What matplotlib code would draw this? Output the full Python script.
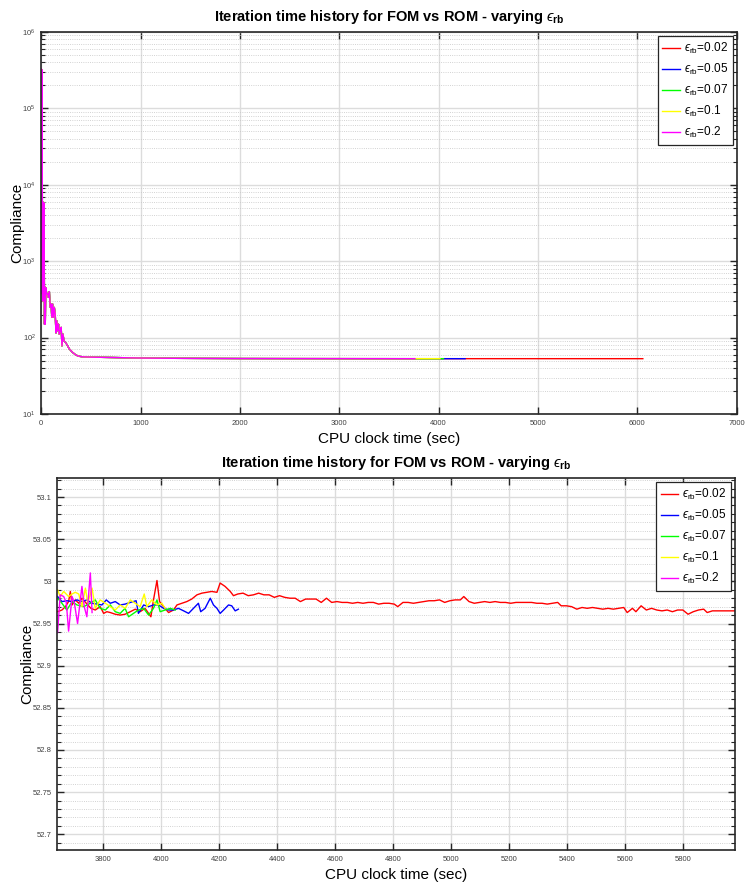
import matplotlib
matplotlib.use("Agg")
import matplotlib.pyplot as plt
from matplotlib.ticker import MultipleLocator, FormatStrFormatter, LogLocator, NullLocator

plt.rcParams['font.family'] = ['Liberation Sans', 'DejaVu Sans']
plt.rcParams['mathtext.fontset'] = 'custom'
plt.rcParams['mathtext.rm'] = 'Liberation Sans'
plt.rcParams['mathtext.it'] = 'Liberation Sans:italic'
plt.rcParams['mathtext.bf'] = 'Liberation Sans:bold'
plt.rcParams['mathtext.fallback'] = 'stixsans'

# ---------------- data ----------------
eps_labels = ['0.02', '0.05', '0.07', '0.1', '0.2']
colors = ['#FF0000', '#0000FF', '#00FF00', '#FFFF00', '#FF00FF']

# shared early history (initial iterations), CPU time (s) / compliance
early_t = [0, 4, 8, 12, 16, 20, 24, 28, 32, 36,
           40, 45, 55, 64, 72, 81, 90, 98, 106, 114,
           122, 131, 140, 148, 156, 165, 173, 181, 190, 200,
           208, 218, 228, 248, 265, 282, 315, 349, 380, 416,
           500]
early_c = [3.3e5, 380, 3.2e5, 420, 300, 5900, 400, 5800, 150, 460,
           150, 450, 372, 372, 336, 400, 250, 275, 184, 275,
           184, 248, 203, 115, 166, 123, 150, 111, 123, 136,
           78, 111, 91, 85, 78, 71, 64, 59, 57, 56,
           55.5]
mid_t = [750, 1000, 1300, 1600, 2000, 2400, 2800, 3200, 3500]
mid_c = [54.8, 54.0, 53.6, 53.4, 53.2, 53.1, 53.05, 53.0, 52.99]

red_t = [3642, 3657, 3669, 3680, 3686, 3692, 3703, 3715, 3726, 3741,
         3757, 3772, 3789, 3801, 3812, 3824, 3841, 3858, 3875, 3893,
         3910, 3927, 3944, 3956, 3964, 3973, 3985, 3994, 4008, 4025,
         4042, 4054, 4071, 4088, 4105, 4123, 4140, 4157, 4174, 4192,
         4203, 4220, 4238, 4249, 4264, 4282, 4300, 4318, 4336, 4354,
         4372, 4390, 4408, 4426, 4444, 4462, 4480, 4498, 4516, 4534,
         4552, 4570, 4588, 4606, 4624, 4642, 4660, 4678, 4696, 4714,
         4732, 4750, 4768, 4786, 4804, 4816, 4834, 4852, 4870, 4888,
         4906, 4924, 4942, 4960, 4978, 4996, 5014, 5032, 5044, 5062,
         5080, 5098, 5116, 5134, 5152, 5170, 5188, 5206, 5224, 5242,
         5260, 5278, 5296, 5314, 5332, 5350, 5368, 5380, 5398, 5416,
         5434, 5452, 5470, 5488, 5506, 5524, 5542, 5560, 5578, 5596,
         5608, 5626, 5638, 5656, 5674, 5692, 5710, 5728, 5746, 5764,
         5782, 5800, 5818, 5836, 5854, 5872, 5884, 5902, 5920, 5944,
         5960, 5979, 5998, 6017, 6036, 6055]
red_c = [52.964, 52.966, 52.970, 52.976, 52.988, 52.972, 52.978, 52.974, 52.980, 52.974,
         52.968, 52.966, 52.970, 52.962, 52.964, 52.963, 52.961, 52.960, 52.961, 52.964,
         52.967, 52.964, 52.968, 52.962, 52.958, 52.978, 53.001, 52.976, 52.970, 52.963,
         52.966, 52.972, 52.974, 52.976, 52.979, 52.984, 52.986, 52.987, 52.988, 52.987,
         52.998, 52.994, 52.988, 52.983, 52.985, 52.986, 52.983, 52.984, 52.986, 52.984,
         52.984, 52.981, 52.983, 52.981, 52.980, 52.980, 52.976, 52.979, 52.979, 52.979,
         52.975, 52.980, 52.975, 52.976, 52.975, 52.975, 52.974, 52.975, 52.974, 52.975,
         52.975, 52.973, 52.974, 52.974, 52.973, 52.970, 52.975, 52.975, 52.974, 52.975,
         52.976, 52.977, 52.977, 52.978, 52.975, 52.977, 52.978, 52.978, 52.982, 52.976,
         52.974, 52.975, 52.976, 52.975, 52.976, 52.975, 52.975, 52.974, 52.975, 52.975,
         52.975, 52.975, 52.974, 52.974, 52.973, 52.974, 52.975, 52.971, 52.971, 52.970,
         52.967, 52.969, 52.968, 52.969, 52.968, 52.967, 52.968, 52.967, 52.968, 52.969,
         52.963, 52.968, 52.964, 52.971, 52.966, 52.968, 52.966, 52.965, 52.966, 52.964,
         52.966, 52.966, 52.961, 52.964, 52.966, 52.967, 52.963, 52.965, 52.965, 52.965,
         52.965, 52.965, 52.964, 52.965, 52.964, 52.964]

blue_t = [3642, 3657, 3674, 3692, 3709, 3726, 3743, 3761, 3778, 3795,
          3810, 3824, 3841, 3858, 3875, 3893, 3913, 3921, 3939, 3956,
          3973, 3990, 4008, 4025, 4042, 4059, 4077, 4094, 4111, 4128,
          4136, 4151, 4169, 4180, 4192, 4203, 4215, 4232, 4243, 4255,
          4266]
blue_c = [52.982, 52.976, 52.977, 52.976, 52.978, 52.976, 52.978, 52.974, 52.973, 52.972,
          52.978, 52.974, 52.976, 52.972, 52.973, 52.975, 52.977, 52.962, 52.972, 52.970,
          52.972, 52.972, 52.968, 52.966, 52.966, 52.968, 52.965, 52.962, 52.968, 52.974,
          52.964, 52.968, 52.980, 52.972, 52.968, 52.962, 52.966, 52.972, 52.971, 52.965,
          52.967]

green_t = [3642, 3657, 3674, 3692, 3709, 3732, 3755, 3772, 3789, 3807,
           3824, 3841, 3858, 3875, 3887, 3904, 3921, 3939, 3956, 3973,
           3985, 3996, 4013, 4031, 4048]
green_c = [52.980, 52.974, 52.966, 52.976, 52.972, 52.970, 52.974, 52.978, 52.968, 52.966,
           52.972, 52.964, 52.962, 52.968, 52.958, 52.962, 52.966, 52.968, 52.960, 52.968,
           52.978, 52.964, 52.966, 52.968, 52.966]

yellow_t = [3642, 3651, 3663, 3680, 3692, 3703, 3715, 3726, 3738, 3746,
            3761, 3772, 3789, 3807, 3824, 3841, 3858, 3875, 3893, 3910,
            3927, 3941, 3950, 3967, 3985, 4002, 4013]
yellow_c = [52.990, 52.982, 52.988, 52.982, 52.985, 52.987, 52.985, 52.970, 52.992, 52.974,
            52.992, 52.968, 52.978, 52.974, 52.970, 52.966, 52.972, 52.968, 52.978, 52.974,
            52.970, 52.985, 52.970, 52.978, 52.972, 52.974, 52.968]

magenta_t = [3642, 3651, 3663, 3672, 3680, 3692, 3700, 3711, 3726, 3734,
             3743, 3755, 3761]
magenta_c = [52.939, 52.984, 52.982, 52.975, 52.941, 52.982, 52.974, 52.950, 52.994, 52.970,
             52.958, 53.010, 52.963]

tails_t = [red_t, blue_t, green_t, yellow_t, magenta_t]
tails_c = [red_c, blue_c, green_c, yellow_c, magenta_c]

x1_ticks = [0, 1000, 2000, 3000, 4000, 5000, 6000, 7000]
x2_ticks = [3800, 4000, 4200, 4400, 4600, 4800, 5000, 5200, 5400, 5600, 5800]
y2_ticks = [52.7, 52.75, 52.8, 52.85, 52.9, 52.95, 53.0, 53.05, 53.1]

EPS = '\u03f5'
title = 'Iteration time history for FOM vs ROM - varying $' + EPS + r'_{\mathbf{rb}}$'

# ---------------- figure ----------------
W, H = 746, 886
fig = plt.figure(figsize=(W / 100, H / 100), dpi=100)


def rect(l, t, r, b):
    return [l / W, 1 - b / H, (r - l) / W, (b - t) / H]


ax1 = fig.add_axes(rect(41.3, 32, 736.7, 414))
ax2 = fig.add_axes(rect(57.3, 478.3, 735, 850))

for i in range(5):
    t = early_t + mid_t + tails_t[i]
    c = early_c + mid_c + tails_c[i]
    lab = '$' + EPS + r'_{\mathrm{rb}}$=' + eps_labels[i]
    ax1.plot(t, c, color=colors[i], lw=1.0, label=lab)
    ax2.plot(t, c, color=colors[i], lw=1.0, label=lab)

ax1.set_yscale('log')
ax1.set_xlim(0, 7000)
ax1.set_ylim(10, 1e6)
ax1.set_xticks(x1_ticks)
ax1.xaxis.set_minor_locator(NullLocator())
ax1.yaxis.set_major_locator(LogLocator(base=10, numticks=10))
ax1.yaxis.set_minor_locator(LogLocator(base=10, subs=range(2, 10), numticks=20))

ax2.set_xlim(3641, 5980)
ax2.set_ylim(52.6814, 53.1222)
ax2.set_xticks(x2_ticks)
ax2.set_yticks(y2_ticks)
ax2.yaxis.set_major_formatter(FormatStrFormatter('%g'))
ax2.xaxis.set_minor_locator(NullLocator())
ax2.yaxis.set_minor_locator(MultipleLocator(0.01))

# label anchor positions in axes fraction (right edge of rotated y label)
for ax, ylx in ((ax1, -0.0249), (ax2, -0.0344)):
    ax.grid(True, which='major', color='#dcdcdc', lw=1.0, ls='-')
    ax.yaxis.grid(True, which='minor', color='#c4c4c4', lw=0.6, ls=':')
    ax.set_axisbelow(True)
    ax.tick_params(which='both', direction='in', top=True, right=True,
                   labelsize=5.5, colors='#262626', labelcolor='#404040')
    ax.tick_params(which='major', length=5, width=1.0, pad=4)
    ax.tick_params(which='minor', length=3, width=0.8)
    for s in ax.spines.values():
        s.set_color('#262626')
        s.set_linewidth(1.2)
    ax.set_title(title, fontsize=10.5, fontweight='bold', pad=8)
    ax.set_xlabel('CPU clock time (sec)', fontsize=11, labelpad=4)
    ax.set_ylabel('Compliance', fontsize=11)
    ax.yaxis.set_label_coords(ylx, 0.5)
    leg = ax.legend(loc='upper right', fontsize=8.5, handlelength=1.5,
                    handletextpad=0.3, labelspacing=0.5, borderaxespad=0.35,
                    fancybox=False, framealpha=1, edgecolor='#262626',
                    borderpad=0.4)
    leg.get_frame().set_linewidth(0.9)

fig.savefig('out.png', dpi=100)
